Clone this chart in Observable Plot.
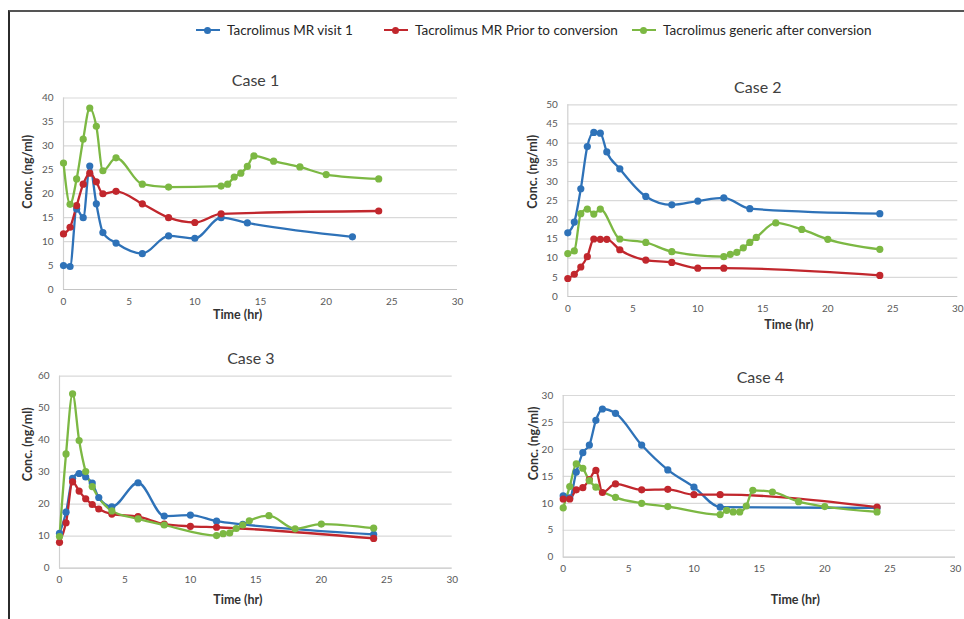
<!DOCTYPE html>
<html>
<head>
<meta charset="utf-8">
<script src="https://cdn.jsdelivr.net/npm/d3@7"></script>
<script src="https://cdn.jsdelivr.net/npm/@observablehq/plot@0.6"></script>
<style>
  html, body { margin: 0; padding: 0; background: #fff; }
  #root { position: relative; width: 964px; height: 619px; overflow: hidden; font-family: Lato, "Open Sans", sans-serif; }
  #frame { position: absolute; left: 8px; top: 10px; width: 970px; height: 620px; border-top: 2px solid #555; border-left: 2px solid #2b2b2b; box-sizing: border-box; }
  .panel { position: absolute; }
  .legend { position: absolute; top: 22px; font-size: 13.5px; color: #262626; white-space: nowrap; display: flex; align-items: center; }
  .key { position: relative; display: inline-block; width: 24px; height: 10px; margin-right: 7px; }
  .key .ln { position: absolute; left: 0; right: 0; top: 4px; height: 2px; }
  .key .dt { position: absolute; left: 8px; top: 1.5px; width: 7px; height: 7px; border-radius: 50%; }
</style>
</head>
<body>
<div id="root">
  <div id="frame"></div>
</div>
<script>
// ---------- data ----------
const seriesNames = ["Tacrolimus MR visit 1", "Tacrolimus MR Prior to conversion", "Tacrolimus generic after conversion"];
const seriesColors = ["#2e72b8", "#c1272d", "#7cb843"];
const xTicks = [0, 5, 10, 15, 20, 25, 30];
const caseTitles = ["Case 1", "Case 2", "Case 3", "Case 4"];
const xLabel = "Time (hr)";
const yLabel = "Conc. (ng/ml)";

// Case 1
const case1YTicks = [0, 5, 10, 15, 20, 25, 30, 35, 40];
const case1Visit1Time = [0, 0.5, 1, 1.5, 2, 2.5, 3, 4, 6, 8, 10, 12, 14, 22];
const case1Visit1Conc = [5.0, 4.8, 16.8, 15.0, 25.8, 17.9, 11.9, 9.7, 7.5, 11.2, 10.7, 15.0, 13.9, 11.0];
const case1PriorTime = [0, 0.5, 1, 1.5, 2, 2.5, 3, 4, 6, 8, 10, 12, 24];
const case1PriorConc = [11.6, 13.0, 17.5, 22.0, 24.3, 22.5, 20.0, 20.5, 17.9, 15.0, 14.0, 15.8, 16.4];
const case1GenericTime = [0, 0.5, 1, 1.5, 2, 2.5, 3, 4, 6, 8, 12, 12.5, 13, 13.5, 14, 14.5, 16, 18, 20, 24];
const case1GenericConc = [26.4, 17.8, 23.1, 31.4, 37.9, 34.1, 24.8, 27.5, 22.0, 21.4, 21.6, 22.0, 23.5, 24.3, 25.7, 27.9, 26.8, 25.6, 24.0, 23.1];

// Case 2
const case2YTicks = [0, 5, 10, 15, 20, 25, 30, 35, 40, 45, 50];
const case2Visit1Time = [0, 0.5, 1, 1.5, 2, 2.5, 3, 4, 6, 8, 10, 12, 14, 24];
const case2Visit1Conc = [16.6, 19.4, 28.1, 39.1, 42.8, 42.6, 37.7, 33.3, 26.1, 23.9, 24.9, 25.7, 22.9, 21.6];
const case2PriorTime = [0, 0.5, 1, 1.5, 2, 2.5, 3, 4, 6, 8, 10, 12, 24];
const case2PriorConc = [4.7, 5.8, 7.7, 10.4, 15.0, 14.9, 14.9, 12.2, 9.5, 8.9, 7.4, 7.4, 5.5];
const case2GenericTime = [0, 0.5, 1, 1.5, 2, 2.5, 4, 6, 8, 12, 12.5, 13, 13.5, 14, 14.5, 16, 18, 20, 24];
const case2GenericConc = [11.2, 11.9, 21.6, 22.8, 21.5, 22.8, 15.0, 14.1, 11.7, 10.4, 11.0, 11.5, 12.7, 14.1, 15.4, 19.2, 17.5, 14.9, 12.3];

// Case 3
const case3YTicks = [0, 10, 20, 30, 40, 50, 60];
const case3Visit1Time = [0, 0.5, 1, 1.5, 2, 2.5, 3, 4, 6, 8, 10, 12, 14, 24];
const case3Visit1Conc = [10.9, 17.5, 28.1, 29.6, 28.5, 26.6, 22.1, 19.2, 26.7, 16.3, 16.6, 14.7, 13.7, 10.6];
const case3PriorTime = [0, 0.5, 1, 1.5, 2, 2.5, 3, 4, 6, 8, 10, 12, 24];
const case3PriorConc = [8.1, 14.2, 27.0, 24.1, 21.7, 19.9, 18.5, 16.9, 16.1, 13.8, 13.1, 12.8, 9.3];
const case3GenericTime = [0, 0.5, 1, 1.5, 2, 2.5, 4, 6, 8, 12, 12.5, 13, 13.5, 14, 14.5, 16, 18, 20, 24];
const case3GenericConc = [9.9, 35.7, 54.5, 39.9, 30.2, 25.5, 17.9, 15.4, 13.5, 10.2, 10.8, 11.0, 12.4, 13.5, 14.8, 16.4, 12.3, 13.8, 12.5];

// Case 4
const case4YTicks = [0, 5, 10, 15, 20, 25, 30];
const case4Visit1Time = [0, 0.5, 1, 1.5, 2, 2.5, 3, 4, 6, 8, 10, 12, 24];
const case4Visit1Conc = [11.4, 11.0, 15.8, 19.4, 20.8, 25.4, 27.5, 26.7, 20.8, 16.2, 13.0, 9.3, 9.15];
const case4PriorTime = [0, 0.5, 1, 1.5, 2, 2.5, 3, 4, 6, 8, 10, 12, 24];
const case4PriorConc = [10.8, 10.8, 12.5, 12.9, 14.4, 16.1, 12.0, 13.6, 12.5, 12.6, 11.6, 11.6, 9.3];
const case4GenericTime = [0, 0.5, 1, 1.5, 2, 2.5, 4, 6, 8, 12, 12.5, 13, 13.5, 14, 14.5, 16, 18, 20, 24];
const case4GenericConc = [9.15, 13.1, 17.3, 16.5, 14.2, 13.0, 11.1, 10.0, 9.4, 7.9, 8.7, 8.4, 8.4, 9.5, 12.4, 12.1, 10.3, 9.4, 8.4];

// ---------- assemble ----------
function rowsFor(pairs) {
  const out = [];
  pairs.forEach(([times, concs], i) => {
    times.forEach((t, j) => out.push({ series: seriesNames[i], t, c: concs[j] }));
  });
  return out;
}
const cases = [
  { title: caseTitles[0], yTicks: case1YTicks, rows: rowsFor([[case1Visit1Time, case1Visit1Conc], [case1PriorTime, case1PriorConc], [case1GenericTime, case1GenericConc]]) },
  { title: caseTitles[1], yTicks: case2YTicks, rows: rowsFor([[case2Visit1Time, case2Visit1Conc], [case2PriorTime, case2PriorConc], [case2GenericTime, case2GenericConc]]) },
  { title: caseTitles[2], yTicks: case3YTicks, rows: rowsFor([[case3Visit1Time, case3Visit1Conc], [case3PriorTime, case3PriorConc], [case3GenericTime, case3GenericConc]]) },
  { title: caseTitles[3], yTicks: case4YTicks, rows: rowsFor([[case4Visit1Time, case4Visit1Conc], [case4PriorTime, case4PriorConc], [case4GenericTime, case4GenericConc]]) }
];

// ---------- layout (pixels) ----------
const layouts = [
  { left: 10,  top: 55,  width: 470, height: 275, mL: 53,   mR: 23,  mT: 42.5, mB: 41,
    title: [-5, -23.5], ylab: [-36, 15], xlab: [-23, 29.5] },
  { left: 480, top: 55,  width: 484, height: 285, mL: 87.3, mR: 6.7, mT: 49.3, mB: 44,
    title: [-5, -23.5], ylab: [-35, 8], xlab: [26, 32] },
  { left: 10,  top: 335, width: 470, height: 284, mL: 49,   mR: 28.3, mT: 40.7, mB: 51.3,
    title: [-5, -24], ylab: [-32, 9], xlab: [-18, 35.5] },
  { left: 480, top: 340, width: 484, height: 279, mL: 82.7, mR: 9,   mT: 55,  mB: 62.3,
    title: [1, -23.5], ylab: [-29.5, 4], xlab: [36, 46.5] }
];

const root = document.getElementById("root");

cases.forEach((cs, k) => {
  const L = layouts[k];
  const yMax = cs.yTicks[cs.yTicks.length - 1];
  const chart = Plot.plot({
    width: L.width,
    height: L.height,
    marginLeft: L.mL,
    marginRight: L.mR,
    marginTop: L.mT,
    marginBottom: L.mB,
    style: { fontFamily: "Lato, 'Open Sans', sans-serif", fontSize: "10px", color: "#595959", background: "transparent", overflow: "visible" },
    x: { domain: [0, 30], ticks: xTicks, tickSize: 0, tickPadding: 8, label: null },
    y: { domain: [0, yMax], ticks: cs.yTicks, tickSize: 0, tickPadding: 10, label: null },
    color: { domain: seriesNames, range: seriesColors },
    marks: [
      Plot.ruleY(cs.yTicks.filter(d => d > 0), { stroke: "#d9d9d9", strokeWidth: 1.2 }),
      Plot.ruleX([0], { stroke: "#d0d0d0", strokeWidth: 1.2 }),
      Plot.ruleY([0], { stroke: "#c4c4c4", strokeWidth: 1.2 }),
      Plot.line(cs.rows, { x: "t", y: "c", z: "series", stroke: "series", strokeWidth: 2.3, curve: "monotone-x" }),
      Plot.dot(cs.rows, { x: "t", y: "c", fill: "series", r: 3.6 }),
      Plot.text([cs.title], { text: d => d, frameAnchor: "top", dx: L.title[0], dy: L.title[1], fontSize: 16, fill: "#404040" }),
      Plot.text([yLabel], { text: d => d, frameAnchor: "left", rotate: -90, dx: L.ylab[0], dy: L.ylab[1], fontSize: 12.5, fontWeight: "bold", fill: "#333" }),
      Plot.text([xLabel], { text: d => d, frameAnchor: "bottom", dx: L.xlab[0], dy: L.xlab[1], fontSize: 12.5, fontWeight: "bold", fill: "#333" })
    ]
  });
  const wrap = document.createElement("div");
  wrap.className = "panel";
  wrap.style.left = L.left + "px";
  wrap.style.top = L.top + "px";
  wrap.appendChild(chart);
  root.appendChild(wrap);
});

// ---------- legend ----------
const legendLeft = [196, 384, 632];
seriesNames.forEach((name, i) => {
  const item = document.createElement("div");
  item.className = "legend";
  item.style.left = legendLeft[i] + "px";
  item.innerHTML = `<span class="key"><span class="ln" style="background:${seriesColors[i]}"></span><span class="dt" style="background:${seriesColors[i]}"></span></span><span>${name}</span>`;
  root.appendChild(item);
});
</script>
</body>
</html>
